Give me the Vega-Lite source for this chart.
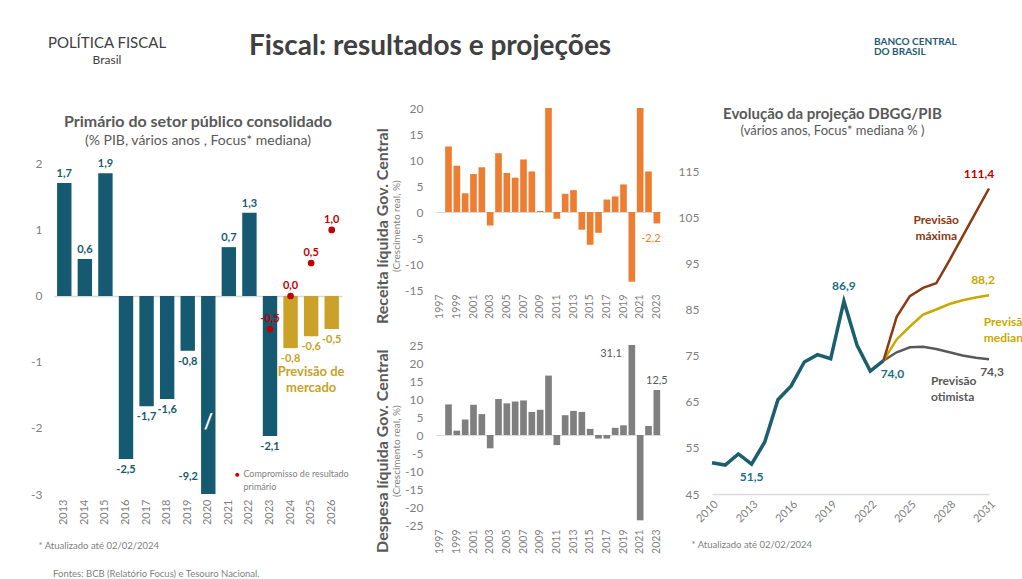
{
"$schema":"https://vega.github.io/schema/vega-lite/v6.json",
"background":"white",
"padding":{"left":30,"top":32,"right":0,"bottom":0},
"config":{
 "font":"Lato",
 "view":{"stroke":null},
 "locale":{"number":{"decimal":",","thousands":".","grouping":[3],"currency":["R$",""],"minus":"-"}},
 "axis":{"labelColor":"#7f7f7f","domain":false,"ticks":false,"grid":false,"titleColor":"#7f7f7f","titleFontWeight":"normal","labelFont":"Lato","titleFont":"Lato","labelOverlap":false},
 "title":{"color":"#595959","subtitleColor":"#595959","font":"Lato","subtitleFont":"Lato"},
 "text":{"font":"Lato"}
},
"datasets":{
 "primario":[
  {"ano":"2013","valor":1.71,"tipo":"Realizado"},
  {"ano":"2014","valor":0.56,"tipo":"Realizado"},
  {"ano":"2015","valor":1.86,"tipo":"Realizado"},
  {"ano":"2016","valor":-2.47,"tipo":"Realizado"},
  {"ano":"2017","valor":-1.67,"tipo":"Realizado"},
  {"ano":"2018","valor":-1.56,"tipo":"Realizado"},
  {"ano":"2019","valor":-0.83,"tipo":"Realizado"},
  {"ano":"2020","valor":-9.2,"tipo":"Realizado"},
  {"ano":"2021","valor":0.74,"tipo":"Realizado"},
  {"ano":"2022","valor":1.26,"tipo":"Realizado"},
  {"ano":"2023","valor":-2.12,"tipo":"Realizado"},
  {"ano":"2024","valor":-0.79,"tipo":"Previsão"},
  {"ano":"2025","valor":-0.61,"tipo":"Previsão"},
  {"ano":"2026","valor":-0.5,"tipo":"Previsão"}
 ],
 "meta":[
  {"ano":"2023","meta":-0.5},
  {"ano":"2024","meta":0.0},
  {"ano":"2025","meta":0.5},
  {"ano":"2026","meta":1.0}
 ],
 "receita":[
  {"ano":1998,"valor":12.6},{"ano":1999,"valor":8.9},{"ano":2000,"valor":3.6},{"ano":2001,"valor":7.3},
  {"ano":2002,"valor":8.6},{"ano":2003,"valor":-2.6},{"ano":2004,"valor":11.3},{"ano":2005,"valor":7.5},
  {"ano":2006,"valor":6.6},{"ano":2007,"valor":10.1},{"ano":2008,"valor":7.8},{"ano":2009,"valor":0.2},
  {"ano":2010,"valor":20},{"ano":2011,"valor":-1.3},{"ano":2012,"valor":3.5},{"ano":2013,"valor":4.2},
  {"ano":2014,"valor":-3.4},{"ano":2015,"valor":-6.3},{"ano":2016,"valor":-4.0},{"ano":2017,"valor":2.4},
  {"ano":2018,"valor":3.0},{"ano":2019,"valor":5.3},{"ano":2020,"valor":-13.4},{"ano":2021,"valor":20},
  {"ano":2022,"valor":7.8},{"ano":2023,"valor":-2.2}
 ],
 "despesa":[
  {"ano":1998,"valor":8.5},{"ano":1999,"valor":1.2},{"ano":2000,"valor":4.3},{"ano":2001,"valor":8.4},
  {"ano":2002,"valor":5.8},{"ano":2003,"valor":-3.7},{"ano":2004,"valor":10.0},{"ano":2005,"valor":8.8},
  {"ano":2006,"valor":9.3},{"ano":2007,"valor":9.6},{"ano":2008,"valor":6.4},{"ano":2009,"valor":7.0},
  {"ano":2010,"valor":16.5},{"ano":2011,"valor":-2.8},{"ano":2012,"valor":5.5},{"ano":2013,"valor":6.7},
  {"ano":2014,"valor":6.4},{"ano":2015,"valor":1.7},{"ano":2016,"valor":-1.0},{"ano":2017,"valor":-1.0},
  {"ano":2018,"valor":2.0},{"ano":2019,"valor":2.7},{"ano":2020,"valor":31.1},{"ano":2021,"valor":-23.7},
  {"ano":2022,"valor":2.5},{"ano":2023,"valor":12.5}
 ],
 "divida":[
  {"ano":2010,"valor":51.8,"serie":"Histórico"},{"ano":2011,"valor":51.3,"serie":"Histórico"},
  {"ano":2012,"valor":53.7,"serie":"Histórico"},{"ano":2013,"valor":51.5,"serie":"Histórico"},
  {"ano":2014,"valor":56.3,"serie":"Histórico"},{"ano":2015,"valor":65.5,"serie":"Histórico"},
  {"ano":2016,"valor":68.5,"serie":"Histórico"},{"ano":2017,"valor":73.7,"serie":"Histórico"},
  {"ano":2018,"valor":75.3,"serie":"Histórico"},{"ano":2019,"valor":74.4,"serie":"Histórico"},
  {"ano":2020,"valor":86.9,"serie":"Histórico"},{"ano":2021,"valor":77.3,"serie":"Histórico"},
  {"ano":2022,"valor":71.7,"serie":"Histórico"},{"ano":2023,"valor":74.0,"serie":"Histórico"},
  {"ano":2023,"valor":74.0,"serie":"Máxima"},{"ano":2024,"valor":83.5,"serie":"Máxima"},
  {"ano":2025,"valor":88.0,"serie":"Máxima"},{"ano":2026,"valor":89.8,"serie":"Máxima"},
  {"ano":2027,"valor":90.8,"serie":"Máxima"},{"ano":2028,"valor":95.8,"serie":"Máxima"},
  {"ano":2029,"valor":101.0,"serie":"Máxima"},{"ano":2030,"valor":106.2,"serie":"Máxima"},
  {"ano":2031,"valor":111.4,"serie":"Máxima"},
  {"ano":2023,"valor":74.0,"serie":"Mediana"},{"ano":2024,"valor":78.6,"serie":"Mediana"},
  {"ano":2025,"valor":81.4,"serie":"Mediana"},{"ano":2026,"valor":84.0,"serie":"Mediana"},
  {"ano":2027,"valor":85.1,"serie":"Mediana"},{"ano":2028,"valor":86.3,"serie":"Mediana"},
  {"ano":2029,"valor":87.1,"serie":"Mediana"},{"ano":2030,"valor":87.7,"serie":"Mediana"},
  {"ano":2031,"valor":88.2,"serie":"Mediana"},
  {"ano":2023,"valor":74.0,"serie":"Otimista"},{"ano":2024,"valor":75.8,"serie":"Otimista"},
  {"ano":2025,"valor":76.9,"serie":"Otimista"},{"ano":2026,"valor":77.0,"serie":"Otimista"},
  {"ano":2027,"valor":76.5,"serie":"Otimista"},{"ano":2028,"valor":75.8,"serie":"Otimista"},
  {"ano":2029,"valor":75.1,"serie":"Otimista"},{"ano":2030,"valor":74.6,"serie":"Otimista"},
  {"ano":2031,"valor":74.3,"serie":"Otimista"}
 ]
},
"spacing":29,
"vconcat":[
 {"hconcat":[
   {"width":106,"height":1,"data":{"values":[{}]},"mark":{"type":"point","opacity":0},
    "title":{"text":"POLÍTICA FISCAL","subtitle":"Brasil","anchor":"middle","fontSize":15,"fontWeight":"normal","subtitleFontSize":12,"color":"#404040","subtitleColor":"#404040","offset":1,"subtitlePadding":4}},
   {"width":543,"height":1,"data":{"values":[{}]},"mark":{"type":"point","opacity":0},
    "title":{"text":"Fiscal: resultados e projeções","anchor":"start","fontSize":28,"fontWeight":"bold","color":"#404040","offset":6}},
   {"width":100,"height":1,"data":{"values":[{}]},"mark":{"type":"point","opacity":0},
    "title":{"text":"BANCO CENTRAL","subtitle":"DO BRASIL","anchor":"start","fontSize":10,"fontWeight":"bold","subtitleFontSize":10,"subtitleFontWeight":"bold","color":"#1f5c73","subtitleColor":"#1f5c73","offset":10,"subtitlePadding":0}}
  ],"spacing":82},
 {"hconcat":[
  {"hconcat":[
   {"width":288,"height":386,
    "title":{"text":"Primário do setor público consolidado","subtitle":"(% PIB, vários anos , Focus* mediana)","fontSize":16,"fontWeight":"bold","subtitleFontSize":14,"anchor":"middle","offset":-40,"subtitlePadding":4},
    "data":{"name":"primario"},
    "encoding":{"x":{"field":"ano","type":"ordinal",
      "scale":{"domain":["2013","2014","2015","2016","2017","2018","2019","2020","2021","2022","2023","2024","2025","2026"],"paddingInner":0.3,"paddingOuter":0.15},
      "axis":{"labelAngle":-90,"labelFontSize":11,"labelPadding":5,
        "title":["* Atualizado até 02/02/2024","\u200b\u00a0\u00a0\u00a0\u00a0\u00a0\u00a0Fontes: BCB (Relatório Focus) e Tesouro Nacional."],
        "titleFontSize":9.5,"titleAnchor":"start","titleAlign":"left","titleBaseline":"top","titleX":-16,"titleY":46,"titleLineHeight":28}}},
    "layer":[
     {"mark":{"type":"bar"},
      "encoding":{
       "y":{"field":"valor","type":"quantitative","scale":{"domain":[-3,2.848],"clamp":true,"nice":false,"zero":false},
        "axis":{"values":[-3,-2,-1,0,1,2],"tickCount":40,"format":"d","labelFontSize":12,"labelPadding":12,"labelOverlap":false,"title":null,"grid":true,"gridColor":"#d9d9d9","gridWidth":1.5,
          "gridOpacity":{"condition":{"test":"datum.value === 0","value":1},"value":0}}},
       "color":{"field":"tipo","type":"nominal","scale":{"domain":["Realizado","Previsão"],"range":["#165a72","#c9a227"]},"legend":null}}},
     {"data":{"values":[{}]},"mark":{"type":"text","text":"/","fontSize":20,"fontWeight":"bold","color":"white","baseline":"middle"},
      "encoding":{"x":{"datum":"2020"},"y":{"datum":-1.92}}},
     {"transform":[{"filter":"datum.valor >= 0"}],
      "mark":{"type":"text","baseline":"bottom","dy":-4,"fontSize":11,"fontWeight":"bold"},
      "encoding":{"y":{"field":"valor","type":"quantitative"},"text":{"field":"valor","type":"quantitative","format":".1f"},
       "color":{"field":"tipo","type":"nominal","legend":null}}},
     {"transform":[{"filter":"datum.valor < 0 && datum.valor > -3"}],
      "mark":{"type":"text","baseline":"top","dy":5,"fontSize":11,"fontWeight":"bold"},
      "encoding":{"y":{"field":"valor","type":"quantitative"},"text":{"field":"valor","type":"quantitative","format":".1f"},
       "color":{"field":"tipo","type":"nominal","legend":null}}},
     {"transform":[{"filter":"datum.valor <= -3"}],
      "mark":{"type":"text","baseline":"middle","dx":-20,"fontSize":11,"fontWeight":"bold","color":"#165a72"},
      "encoding":{"y":{"datum":-2.75},"text":{"field":"valor","type":"quantitative","format":".1f"}}},
     {"data":{"name":"meta"},"mark":{"type":"circle","size":45,"color":"#c00000","opacity":1},
      "encoding":{"y":{"field":"meta","type":"quantitative"}}},
     {"data":{"name":"meta"},"mark":{"type":"text","baseline":"bottom","dy":-5,"fontSize":11,"fontWeight":"bold","color":"#c00000"},
      "encoding":{"y":{"field":"meta","type":"quantitative"},"text":{"field":"meta","type":"quantitative","format":".1f"}}},
     {"data":{"values":[{}]},"mark":{"type":"text","text":["Previsão de","mercado"],"lineHeight":16,"baseline":"top","fontSize":13,"fontWeight":"bold","color":"#c9a227"},
      "encoding":{"x":{"datum":"2025"},"y":{"datum":-1.06}}},
     {"data":{"values":[{}]},"mark":{"type":"text","text":"●","dx":-12,"baseline":"middle","fontSize":8,"color":"#c00000"},
      "encoding":{"x":{"datum":"2022"},"y":{"datum":-2.71}}},
     {"data":{"values":[{}]},"mark":{"type":"text","text":["Compromisso de resultado","primário"],"lineHeight":13,"align":"left","dx":-6,"baseline":"top","fontSize":9,"color":"#7f7f7f"},
      "encoding":{"x":{"datum":"2022"},"y":{"datum":-2.64}}}
    ]},
   {"vconcat":[
    {"width":225,"height":182,
     "title":{"text":"Receita líquida Gov. Central","subtitle":"(Crescimento real, %)","orient":"left","anchor":"middle","frame":"bounds","dx":-16,"fontSize":16,"fontWeight":"bold","subtitleFontSize":10,"offset":3,"subtitlePadding":1,"color":"#595959","subtitleColor":"#7f7f7f"},
     "data":{"name":"receita"},
     "encoding":{"x":{"field":"ano","type":"ordinal",
       "scale":{"domain":[1997,1998,1999,2000,2001,2002,2003,2004,2005,2006,2007,2008,2009,2010,2011,2012,2013,2014,2015,2016,2017,2018,2019,2020,2021,2022,2023],"paddingInner":0.2,"paddingOuter":0.1},
       "axis":{"values":[1997,1999,2001,2003,2005,2007,2009,2011,2013,2015,2017,2019,2021,2023],"labelAngle":-90,"labelFontSize":10.5,"labelPadding":4,"title":null}}},
     "layer":[
      {"mark":{"type":"bar","color":"#ed7d31"},
       "encoding":{"y":{"field":"valor","type":"quantitative","scale":{"domain":[-15,20],"clamp":true,"nice":false,"zero":false},
        "axis":{"values":[-15,-10,-5,0,5,10,15,20],"tickCount":40,"format":"d","labelFontSize":12,"labelPadding":13,"labelOverlap":false,"title":null,"grid":true,"gridColor":"#d9d9d9","gridWidth":1,
          "gridOpacity":{"condition":{"test":"datum.value === 0","value":1},"value":0}}}}},
      {"transform":[{"filter":"datum.ano == 2023"}],
       "mark":{"type":"text","baseline":"top","dy":10,"dx":-6,"fontSize":11,"color":"#ed7d31"},
       "encoding":{"y":{"field":"valor","type":"quantitative"},"text":{"field":"valor","type":"quantitative","format":".1f"}}}
     ]},
    {"width":225,"height":180,
     "title":{"text":"Despesa líquida Gov. Central","subtitle":"(Crescimento real, %)","orient":"left","anchor":"middle","frame":"bounds","dx":-5,"fontSize":16,"fontWeight":"bold","subtitleFontSize":10,"offset":3,"subtitlePadding":1,"color":"#595959","subtitleColor":"#7f7f7f"},
     "data":{"name":"despesa"},
     "encoding":{"x":{"field":"ano","type":"ordinal",
       "scale":{"domain":[1997,1998,1999,2000,2001,2002,2003,2004,2005,2006,2007,2008,2009,2010,2011,2012,2013,2014,2015,2016,2017,2018,2019,2020,2021,2022,2023],"paddingInner":0.2,"paddingOuter":0.1},
       "axis":{"values":[1997,1999,2001,2003,2005,2007,2009,2011,2013,2015,2017,2019,2021,2023],"labelAngle":-90,"labelFontSize":10.5,"labelPadding":4,"title":null}}},
     "layer":[
      {"mark":{"type":"bar","color":"#7f7f7f"},
       "encoding":{"y":{"field":"valor","type":"quantitative","scale":{"domain":[-25,25],"clamp":true,"nice":false,"zero":false},
        "axis":{"values":[-25,-20,-15,-10,-5,0,5,10,15,20,25],"tickCount":40,"format":"d","labelFontSize":12,"labelPadding":13,"labelOverlap":false,"title":null,"grid":true,"gridColor":"#d9d9d9","gridWidth":1,
          "gridOpacity":{"condition":{"test":"datum.value === 0","value":1},"value":0}}}}},
      {"transform":[{"filter":"datum.ano == 2020"}],
       "mark":{"type":"text","align":"right","baseline":"middle","dx":-10,"fontSize":11,"color":"#595959"},
       "encoding":{"y":{"datum":22.5},"text":{"field":"valor","type":"quantitative","format":".1f"}}},
      {"transform":[{"filter":"datum.ano == 2023"}],
       "mark":{"type":"text","baseline":"bottom","dy":-4,"fontSize":11,"color":"#595959"},
       "encoding":{"y":{"field":"valor","type":"quantitative"},"text":{"field":"valor","type":"quantitative","format":".1f"}}}
     ]}
   ],"spacing":15}
  ],"spacing":25,"align":"none"},
  {"width":277,"height":386,
   "title":{"text":"Evolução da projeção DBGG/PIB","subtitle":"(vários anos, Focus* mediana % )","fontSize":15,"fontWeight":"bold","subtitleFontSize":13,"anchor":"middle","dx":-18,"offset":-30,"subtitlePadding":3},
   "data":{"name":"divida"},
   "layer":[
    {"transform":[{"filter":"datum.serie == 'Otimista'"}],"mark":{"type":"line","strokeWidth":2.5,"color":"#595959"},
     "encoding":{
      "x":{"field":"ano","type":"quantitative","scale":{"domain":[2010,2031],"nice":false,"zero":false},
       "axis":{"values":[2010,2013,2016,2019,2022,2025,2028,2031],"tickCount":40,"format":"d","labelAngle":-45,"labelFontSize":11,"labelPadding":4,
        "domain":true,"domainColor":"#d9d9d9","domainWidth":1.5,
        "title":"* Atualizado até 02/02/2024","titleFontSize":9.5,"titleAnchor":"start","titleAlign":"left","titleBaseline":"top","titleX":-21,"titleY":45}},
      "y":{"field":"valor","type":"quantitative","scale":{"domain":[45,128.9],"nice":false,"zero":false},
       "axis":{"values":[45,55,65,75,85,95,105,115],"tickCount":40,"format":"d","labelFontSize":12,"labelPadding":13,"labelOverlap":false,"title":null}}}},
    {"transform":[{"filter":"datum.serie == 'Mediana'"}],"mark":{"type":"line","strokeWidth":2.5,"color":"#c9a800"},
     "encoding":{"x":{"field":"ano","type":"quantitative"},"y":{"field":"valor","type":"quantitative"}}},
    {"transform":[{"filter":"datum.serie == 'Máxima'"}],"mark":{"type":"line","strokeWidth":2.5,"color":"#8b3a12"},
     "encoding":{"x":{"field":"ano","type":"quantitative"},"y":{"field":"valor","type":"quantitative"}}},
    {"transform":[{"filter":"datum.serie == 'Histórico'"}],"mark":{"type":"line","strokeWidth":3.5,"color":"#1b5e6e"},
     "encoding":{"x":{"field":"ano","type":"quantitative"},"y":{"field":"valor","type":"quantitative"}}},
    {"transform":[{"filter":"datum.serie == 'Histórico' && datum.ano == 2020"}],
     "mark":{"type":"text","baseline":"bottom","dy":-8,"fontSize":12,"fontWeight":"bold","color":"#1b6f84"},
     "encoding":{"x":{"field":"ano","type":"quantitative"},"y":{"field":"valor","type":"quantitative"},"text":{"field":"valor","type":"quantitative","format":".1f"}}},
    {"transform":[{"filter":"datum.serie == 'Histórico' && datum.ano == 2013"}],
     "mark":{"type":"text","baseline":"top","dy":8,"fontSize":12,"fontWeight":"bold","color":"#1b6f84"},
     "encoding":{"x":{"field":"ano","type":"quantitative"},"y":{"field":"valor","type":"quantitative"},"text":{"field":"valor","type":"quantitative","format":".1f"}}},
    {"transform":[{"filter":"datum.serie == 'Histórico' && datum.ano == 2023"}],
     "mark":{"type":"text","baseline":"top","dy":8,"dx":9,"fontSize":12,"fontWeight":"bold","color":"#1b6f84"},
     "encoding":{"x":{"field":"ano","type":"quantitative"},"y":{"field":"valor","type":"quantitative"},"text":{"field":"valor","type":"quantitative","format":".1f"}}},
    {"transform":[{"filter":"datum.serie == 'Máxima' && datum.ano == 2031"}],
     "mark":{"type":"text","baseline":"bottom","dy":-8,"dx":-10,"fontSize":12,"fontWeight":"bold","color":"#c00000"},
     "encoding":{"x":{"field":"ano","type":"quantitative"},"y":{"field":"valor","type":"quantitative"},"text":{"field":"valor","type":"quantitative","format":".1f"}}},
    {"transform":[{"filter":"datum.serie == 'Mediana' && datum.ano == 2031"}],
     "mark":{"type":"text","baseline":"bottom","dy":-8,"dx":-6,"fontSize":12,"fontWeight":"bold","color":"#c9a800"},
     "encoding":{"x":{"field":"ano","type":"quantitative"},"y":{"field":"valor","type":"quantitative"},"text":{"field":"valor","type":"quantitative","format":".1f"}}},
    {"transform":[{"filter":"datum.serie == 'Otimista' && datum.ano == 2031"}],
     "mark":{"type":"text","baseline":"top","dy":8,"dx":3,"fontSize":12,"fontWeight":"bold","color":"#595959"},
     "encoding":{"x":{"field":"ano","type":"quantitative"},"y":{"field":"valor","type":"quantitative"},"text":{"field":"valor","type":"quantitative","format":".1f"}}},
    {"data":{"values":[{}]},"mark":{"type":"text","text":["Previsão","máxima"],"lineHeight":16,"baseline":"middle","fontSize":12,"fontWeight":"bold","color":"#8b3a12"},
     "encoding":{"x":{"datum":2027},"y":{"datum":104.5}}},
    {"data":{"values":[{}]},"mark":{"type":"text","text":["Previsão","mediana"],"lineHeight":16,"align":"left","baseline":"middle","fontSize":12,"fontWeight":"bold","color":"#c9a800"},
     "encoding":{"x":{"datum":2030.6},"y":{"datum":82.4}}},
    {"data":{"values":[{}]},"mark":{"type":"text","text":["Previsão","otimista"],"lineHeight":16,"align":"left","baseline":"middle","fontSize":12,"fontWeight":"bold","color":"#595959"},
     "encoding":{"x":{"datum":2026.6},"y":{"datum":69.6}}}
   ]}
 ],"spacing":10,"align":"none"}
]
}
